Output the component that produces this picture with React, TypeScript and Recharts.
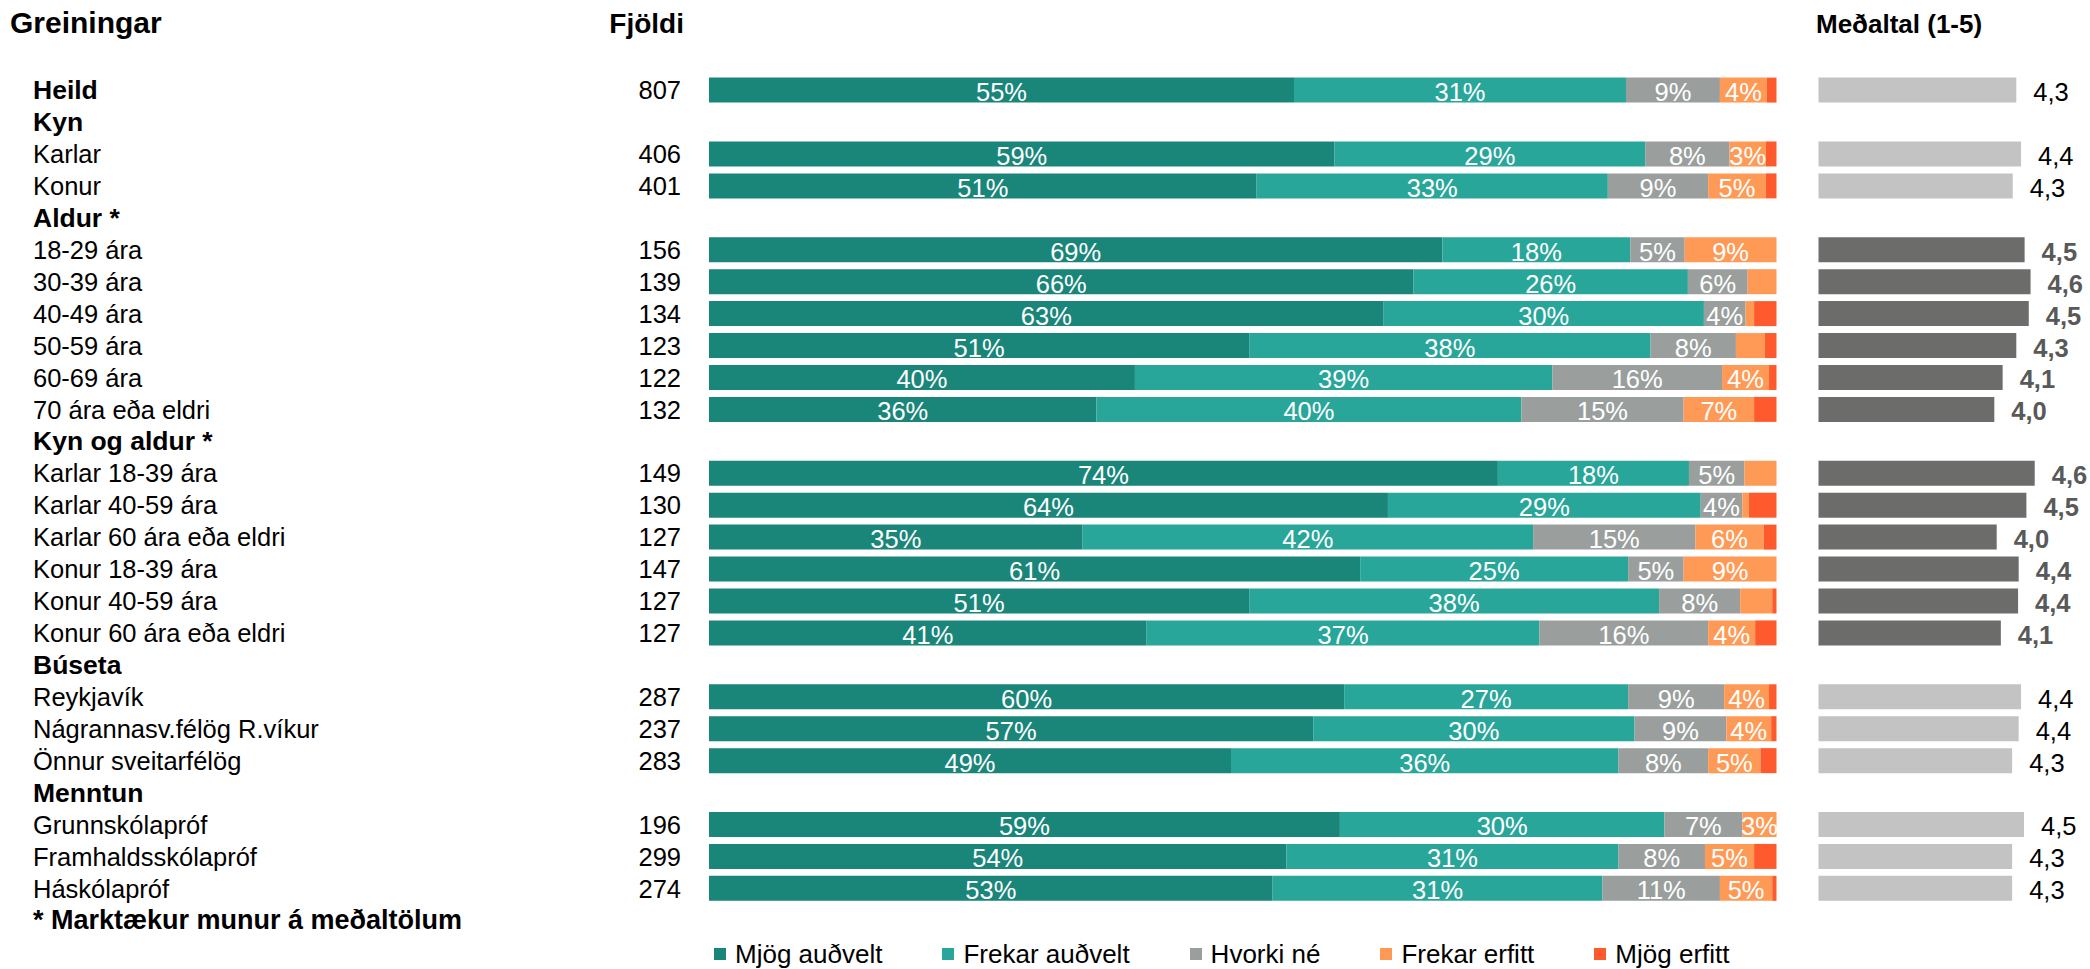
import React from 'react';
import { BarChart, Bar, XAxis, YAxis, LabelList, Cell } from 'recharts';

const FONT = '"Liberation Sans", Arial, Helvetica, sans-serif';

const categories = [
  'Heild', 'Kyn', 'Karlar', 'Konur', 'Aldur *', '18-29 ára', '30-39 ára', '40-49 ára', '50-59 ára',
  '60-69 ára', '70 ára eða eldri', 'Kyn og aldur *', 'Karlar 18-39 ára', 'Karlar 40-59 ára',
  'Karlar 60 ára eða eldri', 'Konur 18-39 ára', 'Konur 40-59 ára', 'Konur 60 ára eða eldri', 'Búseta',
  'Reykjavík', 'Nágrannasv.félög R.víkur', 'Önnur sveitarfélög', 'Menntun', 'Grunnskólapróf',
  'Framhaldsskólapróf', 'Háskólapróf', '* Marktækur munur á meðaltölum',
];

const boldRows = ['Heild', 'Kyn', 'Aldur *', 'Kyn og aldur *', 'Búseta', 'Menntun', '* Marktækur munur á meðaltölum'];

const significantRows = [
  '18-29 ára', '30-39 ára', '40-49 ára', '50-59 ára', '60-69 ára', '70 ára eða eldri',
  'Karlar 18-39 ára', 'Karlar 40-59 ára', 'Karlar 60 ára eða eldri', 'Konur 18-39 ára',
  'Konur 40-59 ára', 'Konur 60 ára eða eldri',
];

const counts = [807, null, 406, 401, null, 156, 139, 134, 123, 122, 132, null, 149, 130, 127, 147, 127, 127, null, 287, 237, 283, null, 196, 299, 274, null];

const mjogAudvelt = [54.8, null, 58.6, 51.3, null, 68.7, 66.0, 63.2, 50.6, 39.9, 36.3, null, 73.9, 63.6, 35.0, 61.0, 50.6, 41.0, null, 59.5, 56.6, 48.9, null, 59.1, 54.1, 52.8, null];
const frekarAudvelt = [31.1, null, 29.1, 32.9, null, 17.6, 25.7, 30.0, 37.6, 39.1, 39.8, null, 17.9, 29.3, 42.2, 25.1, 38.4, 36.8, null, 26.6, 30.1, 36.3, null, 30.4, 31.1, 30.9, null];
const hvorkiNe = [8.8, null, 7.9, 9.4, null, 5.1, 5.6, 3.9, 8.0, 15.9, 15.2, null, 5.2, 3.9, 15.2, 5.2, 7.6, 15.8, null, 9.0, 8.6, 8.4, null, 7.3, 8.1, 11.0, null];
const frekarErfitt = [4.4, null, 3.4, 5.4, null, 8.6, 2.7, 0.8, 2.7, 4.4, 6.6, null, 3.0, 0.6, 6.4, 8.7, 3.0, 4.4, null, 4.2, 4.2, 4.9, null, 3.2, 4.6, 4.9, null];
const mjogErfitt = [0.9, null, 1.0, 1.0, null, 0, 0, 2.1, 1.1, 0.7, 2.1, null, 0, 2.6, 1.2, 0, 0.4, 2.0, null, 0.7, 0.5, 1.5, null, 0, 2.1, 0.4, null];

const means = [4.33, null, 4.41, 4.27, null, 4.47, 4.57, 4.54, 4.33, 4.10, 3.96, null, 4.64, 4.50, 4.00, 4.37, 4.36, 4.07, null, 4.41, 4.37, 4.26, null, 4.46, 4.26, 4.26, null];

const seriesNames = ['Mjög auðvelt', 'Frekar auðvelt', 'Hvorki né', 'Frekar erfitt', 'Mjög erfitt'];
const seriesKeys = ['s1', 's2', 's3', 's4', 's5'];
const seriesColors = ['#1A8579', '#29A69A', '#9A9F9E', '#FF9A56', '#FF5A2D'];
const seriesValues = [mjogAudvelt, frekarAudvelt, hvorkiNe, frekarErfitt, mjogErfitt];

const meanLight = '#C3C3C3';
const meanDark = '#6C6C6A';

const data = categories.map((name, i) => {
  const row: any = { name, count: counts[i], mean: means[i] ?? undefined };
  seriesKeys.forEach((k, j) => {
    const v = seriesValues[j][i];
    row[k] = v === null ? undefined : v;
  });
  return row;
});

const CHART_H = 969;
const ROW_H = 31.93;
const TOP = 74.6;
const BOTTOM = CHART_H - TOP - ROW_H * categories.length;

const RowTick = (props: any) => {
  const { y, payload } = props;
  const idx = categories.indexOf(payload.value);
  const bold = boldRows.includes(payload.value);
  const isNote = idx === categories.length - 1;
  const c = counts[idx];
  return (
    <g>
      <text
        x={33}
        y={y}
        dy={8.7}
        fontSize={isNote ? 27 : bold ? 26.5 : 25.5}
        fontFamily={FONT}
        fontWeight={bold ? 'bold' : 'normal'}
        fill="#000"
      >
        {payload.value}
      </text>
      {c !== null && c !== undefined ? (
        <text x={681} y={y} dy={8.7} fontSize={25.5} fontFamily={FONT} textAnchor="end" fill="#000">
          {c}
        </text>
      ) : null}
    </g>
  );
};

const segLabel = (props: any) => {
  const { x, y, width, height, value } = props;
  if (value === undefined || value === null || typeof value !== 'number' || value < 3.15) return null;
  return (
    <text x={x + width / 2} y={y + height / 2} dy={11} textAnchor="middle" fontSize={25.5} fontFamily={FONT} fill="#fff">
      {`${Math.round(value)}%`}
    </text>
  );
};

const meanLabel = (props: any) => {
  const { x, y, width, height, value } = props;
  const idx = categories.indexOf(value);
  if (idx < 0) return null;
  const m = means[idx];
  if (m === null || m === undefined) return null;
  const dark = significantRows.includes(value);
  return (
    <text
      x={x + width + 17}
      y={y + height / 2}
      dy={11}
      fontSize={25.5}
      fontFamily={FONT}
      fontWeight={dark ? 'bold' : 'normal'}
      fill={dark ? '#595959' : '#000'}
    >
      {m.toFixed(1).replace('.', ',')}
    </text>
  );
};

export default function App() {
  return (
    <div style={{ position: 'relative', width: 2090, height: 969, background: '#fff', fontFamily: FONT, overflow: 'hidden' }}>
      <style>{'body{margin:0;}'}</style>
      <div style={{ position: 'absolute', left: 0, top: 0 }}>
        <BarChart
          width={1790}
          height={CHART_H}
          data={data}
          layout="vertical"
          margin={{ top: TOP, right: 13.5, bottom: BOTTOM, left: 0 }}
        >
          <XAxis type="number" domain={[0, 100]} hide />
          <YAxis
            type="category"
            dataKey="name"
            width={709}
            interval={0}
            tickLine={false}
            axisLine={false}
            tick={<RowTick />}
          />
          {seriesKeys.map((k, j) => (
            <Bar key={k} dataKey={k} name={seriesNames[j]} stackId="a" fill={seriesColors[j]} barSize={25} isAnimationActive={false}>
              <LabelList dataKey={k} content={segLabel} />
            </Bar>
          ))}
        </BarChart>
      </div>
      <div style={{ position: 'absolute', left: 0, top: 0 }}>
        <BarChart
          width={2090}
          height={CHART_H}
          data={data}
          layout="vertical"
          margin={{ top: TOP, right: 2090 - 1818.5 - 237.6, bottom: BOTTOM, left: 1818.5 }}
        >
          <XAxis type="number" domain={[1, 5]} hide />
          <YAxis type="category" dataKey="name" hide />
          <Bar dataKey="mean" barSize={25} isAnimationActive={false}>
            {data.map((d, i) => (
              <Cell key={i} fill={significantRows.includes(d.name) ? meanDark : meanLight} />
            ))}
            <LabelList dataKey="name" content={meanLabel} />
          </Bar>
        </BarChart>
      </div>
      <svg width={2090} height={969} style={{ position: 'absolute', left: 0, top: 0, pointerEvents: 'none' }}>
        <text x={10} y={33} fontSize={30} fontWeight="bold" fontFamily={FONT} fill="#000">Greiningar</text>
        <text x={684} y={33} fontSize={28} fontWeight="bold" fontFamily={FONT} fill="#000" textAnchor="end">Fjöldi</text>
        <text x={1816} y={33} fontSize={26} fontWeight="bold" fontFamily={FONT} fill="#000">Meðaltal (1-5)</text>
      </svg>
      <div
        style={{
          position: 'absolute',
          left: 714,
          top: 939,
          display: 'flex',
          alignItems: 'center',
          gap: 60,
          fontSize: 26,
          fontFamily: FONT,
          whiteSpace: 'nowrap',
          lineHeight: '30px',
        }}
      >
        {seriesNames.map((n, j) => (
          <div key={n} style={{ display: 'flex', alignItems: 'center' }}>
            <span style={{ display: 'inline-block', width: 12, height: 12, background: seriesColors[j], marginRight: 9 }} />
            <span style={{ color: '#000' }}>{n}</span>
          </div>
        ))}
      </div>
    </div>
  );
}
